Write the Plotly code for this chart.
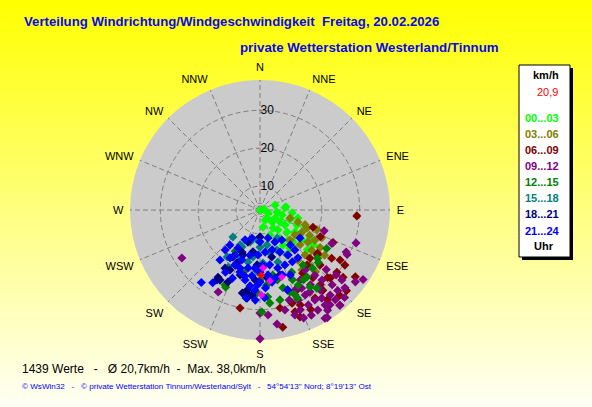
import plotly.graph_objects as go

W, H = 592, 407

# ---- data: wind direction (deg, clockwise from N) and speed (km/h) per time slot ----
dir_00_03 = [150, 85, 97, 139, 121, 108, 112, 144, 129, 122, 144.5, 134, 112, 119, 147, 158, 123, 170, 95,
             111, 118, 121, 122, 137, 125.5, 138, 135, 153, 102, 103, 142, 130, 72, 83, 76]
spd_00_03 = [3.8, 10.3, 8.2, 6.5, 9.9, 12.0, 14.2, 9.6, 12.9, 16.2, 12.8, 15.8, 16.5, 18.8, 14.8, 10.8, 20.5, 8.3, 12.2,
             6.0, 8.2, 11.4, 14.6, 14.5, 17.3, 10.8, 8.2, 6.7, 13.9, 9.7, 16.5, 20.0, 7.9, 10.6, 4.8]

dir_03_06 = [105, 107.5, 108, 118, 117, 125.5, 124, 119, 131, 128, 122, 135, 130, 139, 114, 138, 143, 145, 138,
             135, 125, 148, 111, 109]
spd_03_06 = [11.9, 14.2, 16.2, 16.2, 18.4, 15.0, 18.9, 20.2, 17.7, 21.0, 22.4, 20.5, 23.6, 17.7, 21.6, 23.3, 20.3,
             23.0, 25.6, 14.9, 24.5, 17.7, 17.0, 19.6]

dir_06_09 = [93.5, 114, 124, 122, 123, 125, 133, 140, 143, 153, 161, 169, 191.5, 142, 132.5, 146, 128, 155, 161,
             142, 134, 135, 129, 148, 108, 114, 127, 139.5, 129, 137, 157, 168.5, 159.5, 141, 134]
spd_06_09 = [29.3, 24.8, 26.5, 28.6, 30.4, 34.4, 34.9, 36.5, 33.3, 33.2, 32.1, 35.2, 30.1, 26.4, 25.2, 23.8, 22.9,
             26.9, 29.7, 30.6, 22.0, 28.9, 31.9, 31.1, 18.4, 21.1, 22.7, 22.8, 29.8, 34.5, 30.9, 30.1, 33.8, 29.0, 29.5]

dir_09_12 = [238.4, 109, 124, 116, 180, 148, 136, 171.5, 175.6, 207, 108, 115, 117, 127, 149, 158, 180,
             150, 146, 143, 140.5, 152, 148.6, 145.6, 140, 156, 153, 150, 146, 136, 130.5, 162, 158, 154, 145,
             136, 140, 143, 157, 138.5, 140, 161.6, 166, 148.6, 143.6, 130.5, 132, 132.5, 152, 143]
spd_09_12 = [27.9, 30.5, 36.5, 29.0, 37.7, 37.2, 35.8, 34.1, 31.5, 28.0, 21.5, 24.6, 29.5, 35.2, 37.0, 34.4, 30.9,
             25.0, 27.5, 30.1, 32.8, 29.1, 31.5, 34.1, 34.6, 26.7, 31.8, 34.2, 35.6, 33.2, 32.1, 28.7, 32.1, 34.6, 32.1,
             31.1, 26.2, 23.5, 29.5, 28.4, 36.5, 32.9, 30.9, 29.0, 34.8, 30.1, 27.2, 34.1, 27.1, 29.3]

dir_12_15 = [211, 204, 190, 182, 175, 167.5, 179, 157, 147, 120, 130, 161, 155, 166, 138, 148, 195, 174, 160,
             157.6, 132, 145, 153, 163.6, 180, 142, 144, 175, 153, 177, 169, 205]
spd_12_15 = [16.4, 26.0, 25.9, 25.6, 26.7, 28.0, 30.6, 28.9, 27.9, 24.0, 23.4, 26.0, 24.0, 22.7, 24.4, 25.4, 20.7,
             28.4, 26.7, 27.9, 24.4, 25.3, 25.9, 25.1, 22.2, 22.1, 29.2, 23.6, 22.1, 18.8, 21.2, 25.5]

dir_15_18 = [225, 215, 200.6, 185.7, 206, 168.7, 157, 188.5, 176.8, 209.7, 197, 180, 203, 193, 181.8, 148.7,
             167, 209, 161, 149]
spd_15_18 = [13.8, 18.8, 12.7, 11.6, 14.5, 13.1, 15.2, 16.2, 17.7, 14.3, 12.5, 13.5, 17.2, 17.8, 20.1, 12.4,
             15.3, 21.0, 18.2, 17.5]

dir_18_21 = [212, 211.6, 204, 188.4, 192, 206.6, 203.5, 200.7, 180, 209.7, 210, 188, 185.4, 189, 203, 200.6,
             189.5, 183, 166, 163, 174, 204.4, 211, 197, 184]
spd_18_21 = [24.6, 25.4, 24.5, 27.2, 26.1, 21.4, 18.9, 16.4, 10.8, 25.0, 18.0, 26.3, 26.2, 25.1, 15.8, 12.7,
             14.9, 18.2, 16.5, 21.6, 21.7, 19.6, 21.6, 21.6, 22.2]

dir_21_24 = [219, 213, 221, 212, 204.4, 198, 192, 187.5, 183.6, 180, 220.6, 210, 206.6, 196, 180, 164, 155, 144,
             139, 209, 200, 192.5, 182.5, 173, 163, 154.5, 148, 139, 199, 191.7, 185, 177, 170, 163, 155.6, 148,
             193, 187, 180, 173, 167.6, 161, 155, 182, 176, 170.5, 161, 218.7, 209, 202, 125, 141.6, 189, 183, 177]
spd_21_24 = [28.3, 26.6, 17.7, 18.6, 19.6, 20.9, 22.6, 23.9, 24.9, 22.7, 15.9, 15.3, 12.5, 11.4, 12.1, 11.4, 13.0,
             13.5, 15.9, 17.3, 17.7, 15.9, 15.6, 14.9, 14.7, 16.0, 17.7, 17.7, 19.9, 19.3, 19.1, 18.2, 18.4, 19.7,
             19.6, 19.8, 21.6, 21.2, 20.1, 21.0, 22.1, 21.8, 22.6, 23.5, 24.3, 23.0, 26.0, 20.6, 22.5, 23.1, 16.6,
             19.8, 27.2, 27.5, 26.9]

dir_highlight = [177, 172, 162, 179]
spd_highlight = [19.0, 22.6, 22.3, 26.1]
dir_current = [179]
spd_current = [20.9]

slot_labels = ["00...03", "03...06", "06...09", "09...12", "12...15", "15...18", "18...21", "21...24"]
slot_colors = ["#00ff00", "#808000", "#800000", "#800080", "#008000", "#008080", "#000080", "#0000ff"]

compass_angles = [0, 22.5, 45, 67.5, 90, 112.5, 135, 157.5, 180, 202.5, 225, 247.5, 270, 292.5, 315, 337.5]
compass_labels = ["N", "NNE", "NE", "ENE", "E", "ESE", "SE", "SSE", "S", "SSW", "SW", "WSW", "W", "WNW", "NW", "NNW"]
speed_ticks = [5.5, 10, 20, 30]
speed_ticktext = ["", "10", "20", "30"]
speed_range = [3.7, 38.0]

title_text = "Verteilung Windrichtung/Windgeschwindigkeit\u00a0\u00a0Freitag, 20.02.2026"
subtitle_text = "private Wetterstation Westerland/Tinnum"
stats_text = "1439 Werte\u00a0\u00a0\u00a0-\u00a0\u00a0\u00a0\u00d8 20,7km/h\u00a0\u00a0-\u00a0\u00a0Max. 38,0km/h"
footer_text = ("\u00a9 WsWin32\u00a0\u00a0\u00a0-\u00a0\u00a0\u00a0\u00a9 private Wetterstation Tinnum/Westerland/Sylt"
               "\u00a0\u00a0\u00a0-\u00a0\u00a0\u00a054\u00b054'13\" Nord; 8\u00b019'13\" Ost")
current_value_text = "20,9"

# ---- figure ----
groups = [(dir_00_03, spd_00_03), (dir_03_06, spd_03_06), (dir_06_09, spd_06_09), (dir_09_12, spd_09_12),
          (dir_12_15, spd_12_15), (dir_15_18, spd_15_18), (dir_18_21, spd_18_21), (dir_21_24, spd_21_24)]

fig = go.Figure()
for (d, s), col, lab in zip(groups, slot_colors, slot_labels):
    fig.add_trace(go.Scatterpolar(theta=d, r=s, mode="markers", name=lab,
                                  marker=dict(symbol="diamond", size=7, color=col, line=dict(width=0))))
fig.add_trace(go.Scatterpolar(theta=dir_highlight, r=spd_highlight, mode="markers",
                              marker=dict(symbol="diamond", size=6, color="#ff00ff", line=dict(width=0))))
fig.add_trace(go.Scatterpolar(theta=dir_current, r=spd_current, mode="markers",
                              marker=dict(symbol="diamond", size=6, color="#ff0000", line=dict(width=0))))


def px(x):
    return x / W


def py(y):
    return 1 - y / H


FONT = "Liberation Sans, Arial, sans-serif"

# background gradient
shapes = []
n = 70
for i in range(n):
    t = (i + 0.5) / n
    b = int(round(245 * t))
    shapes.append(dict(type="rect", xref="paper", yref="paper", x0=0, x1=1,
                       y0=1 - (i + 1) / n - 0.001, y1=1 - i / n + 0.001,
                       fillcolor=f"rgb(255,255,{b})", line=dict(width=0), layer="below"))
# legend box with shadow
shapes.append(dict(type="rect", xref="paper", yref="paper", x0=px(522), x1=px(573), y0=py(260), y1=py(68),
                   fillcolor="#000000", line=dict(width=0), layer="above"))
shapes.append(dict(type="rect", xref="paper", yref="paper", x0=px(519), x1=px(570), y0=py(257), y1=py(65),
                   fillcolor="#ffffff", line=dict(color="#000000", width=1), layer="above"))

annotations = []


def txt(x, y, s, size, color, bold=False, xanchor="left"):
    annotations.append(dict(x=px(x), y=py(y), xref="paper", yref="paper", text=(f"<b>{s}</b>" if bold else s),
                            showarrow=False, xanchor=xanchor, yanchor="middle",
                            font=dict(family=FONT, size=size, color=color)))


txt(22, 21, title_text, 13.2, "#0a0ae6", bold=True)
txt(238, 48, subtitle_text, 13.3, "#0a0ae6", bold=True)
txt(20, 369, stats_text, 12, "#000000")
txt(20, 386, footer_text, 8.1, "#0000ff")
txt(546, 75, "km/h", 11, "#000000", bold=True, xanchor="center")
txt(560, 92, current_value_text, 11, "#ff0000", xanchor="right")
ys = [118, 134, 150, 166, 182, 198, 214, 231]
for lab, col, yy in zip(slot_labels, slot_colors, ys):
    txt(542, yy, lab, 11, col, bold=True, xanchor="center")
txt(544, 246, "Uhr", 11, "#000000", bold=True, xanchor="center")

fig.update_layout(
    width=W, height=H, margin=dict(l=0, r=0, t=0, b=0),
    paper_bgcolor="#ffff00", showlegend=False,
    shapes=shapes, annotations=annotations,
    polar=dict(
        domain=dict(x=[px(130), px(390)], y=[py(340), py(80)]),
        bgcolor="#cbcbcb",
        angularaxis=dict(rotation=90, direction="clockwise", tickmode="array",
                         tickvals=compass_angles, ticktext=compass_labels,
                         showline=False, ticks="outside", ticklen=4, tickcolor="rgba(0,0,0,0)",
                         showgrid=True, gridcolor="#7f7f7f", griddash="5px,3px", gridwidth=1,
                         tickfont=dict(family=FONT, size=11, color="#000000")),
        radialaxis=dict(range=speed_range, tickmode="array", tickvals=speed_ticks, ticktext=speed_ticktext,
                        angle=90, tickangle=90, side="clockwise", showline=False, ticks="",
                        showgrid=True, gridcolor="#7f7f7f", griddash="5px,3px", gridwidth=1,
                        tickfont=dict(family=FONT, size=12, color="#000000")),
    ),
)

fig.write_html("out.html", config={"displayModeBar": False},
               post_script="document.body.style.margin='0';document.body.style.padding='0';")
